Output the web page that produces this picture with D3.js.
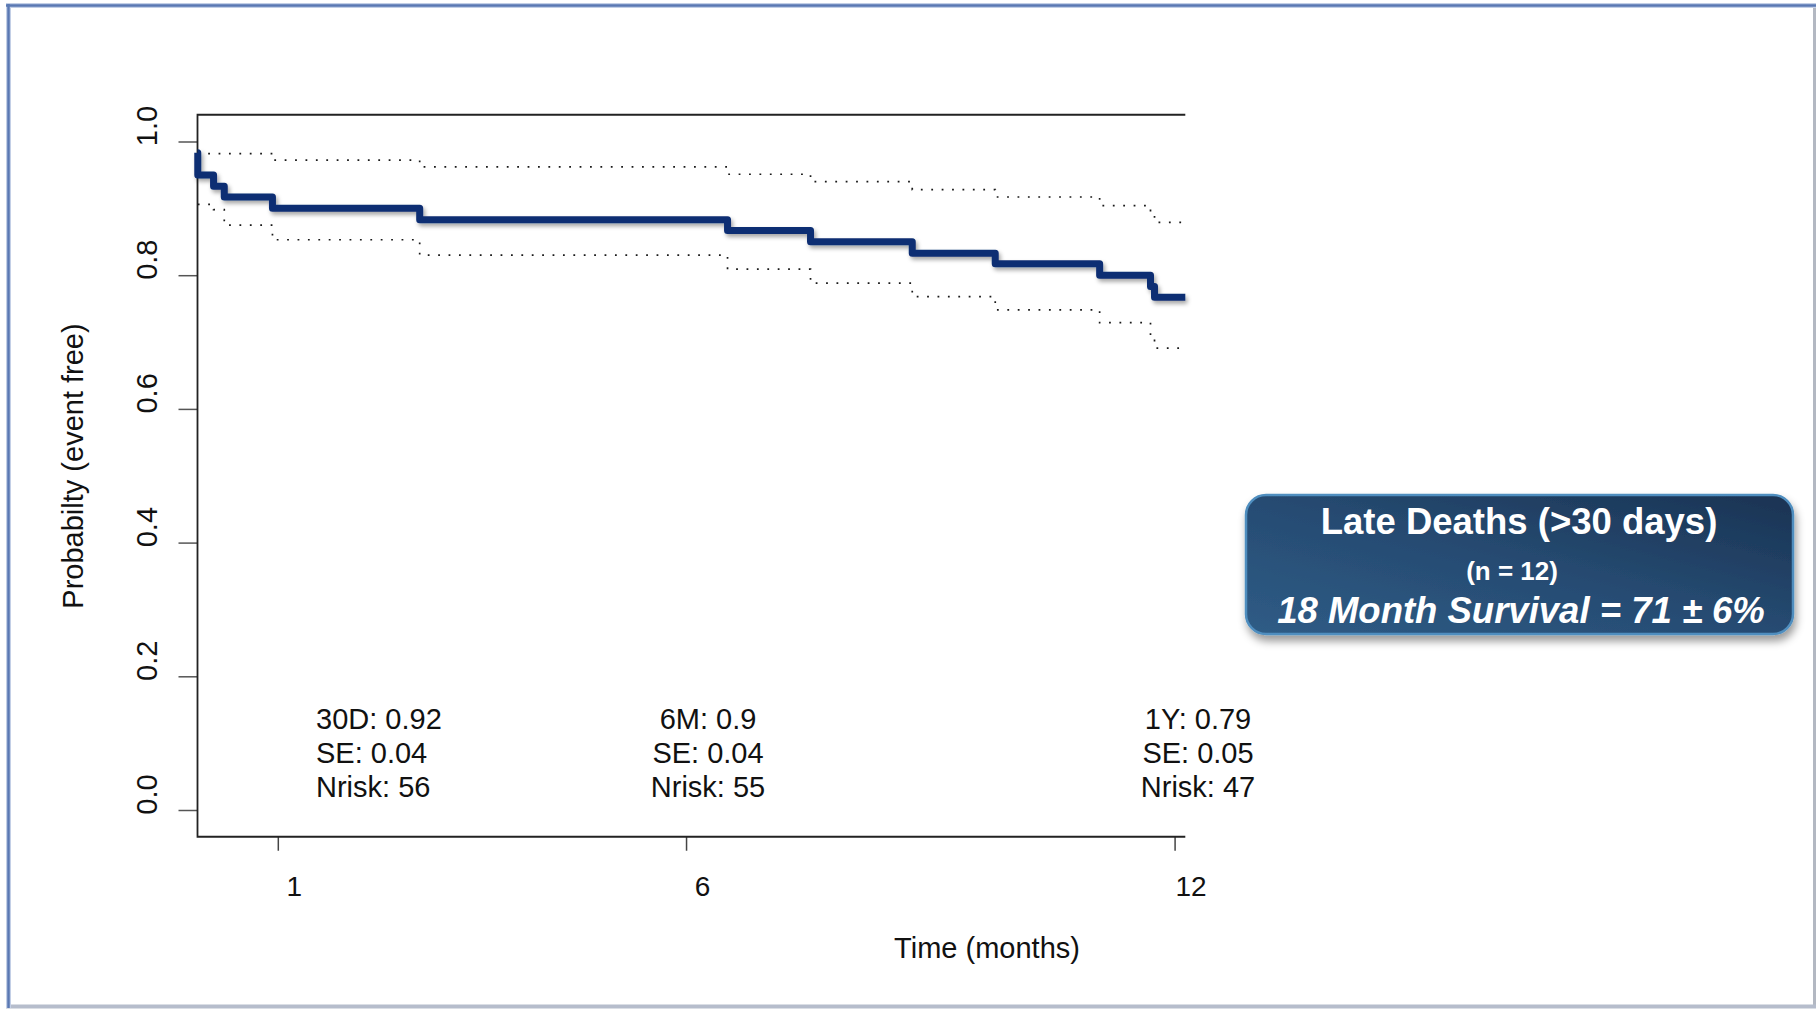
<!DOCTYPE html>
<html>
<head>
<meta charset="utf-8">
<script src="https://cdn.jsdelivr.net/npm/d3@7"></script>
<style>
  html, body { margin: 0; padding: 0; background: #fff; }
  svg { display: block; font-family: "Liberation Sans", Arial, sans-serif; }
</style>
</head>
<body>
<svg id="chart" width="1816" height="1009"></svg>
<script>
// ---- data ----
const dayTicks = [30, 182.5, 365];
const monthLabels = ["1", "6", "12"];
const probTicks = [0, 0.2, 0.4, 0.6, 0.8, 1.0];

// Kaplan-Meier estimate (time in days)
const eventDays = [0, 0.1, 6, 10, 28, 83, 198, 229, 267, 298, 337, 356, 357.5];
const survival  = [0.983, 0.950, 0.933, 0.917, 0.900, 0.883, 0.867, 0.850, 0.833, 0.817, 0.800, 0.783, 0.767];

// pointwise confidence limits
const ciDays  = [0.1, 6, 10, 28, 83, 198, 229, 267, 298, 337, 356, 357.5];
const upperCI = [0.982, 0.982, 0.982, 0.972, 0.962, 0.951, 0.940, 0.928, 0.917, 0.904, 0.892, 0.879];
const lowerCI = [0.906, 0.898, 0.875, 0.853, 0.830, 0.809, 0.788, 0.768, 0.748, 0.729, 0.710, 0.691];
const lastDay = 369;

// survival summaries
const statNames  = ["30D", "6M", "1Y"];
const statSurv   = ["0.92", "0.9", "0.79"];
const statSE     = ["0.04", "0.04", "0.05"];
const statNrisk  = [56, 55, 47];

const boxTitle = "Late Deaths (>30 days)";
const boxCount = "(n = 12)";
const boxNote  = "18 Month Survival = 71 \u00B1 6%";

// ---- drawing ----
const svg = d3.select("#chart");
const W = 1816, H = 1009;

const defs = svg.append("defs");
const lineShadow = defs.append("filter").attr("id", "lineShadow")
  .attr("x", "-5%").attr("y", "-20%").attr("width", "110%").attr("height", "140%");
lineShadow.append("feDropShadow").attr("dx", 2).attr("dy", 3)
  .attr("stdDeviation", 2).attr("flood-color", "#000").attr("flood-opacity", 0.35);

const boxShadow = defs.append("filter").attr("id", "boxShadow")
  .attr("x", "-10%").attr("y", "-20%").attr("width", "120%").attr("height", "150%");
boxShadow.append("feDropShadow").attr("dx", 2).attr("dy", 6)
  .attr("stdDeviation", 4).attr("flood-color", "#000").attr("flood-opacity", 0.4);

const grad = defs.append("linearGradient").attr("id", "boxFill")
  .attr("x1", 0).attr("y1", 1).attr("x2", 1).attr("y2", 0);
grad.append("stop").attr("offset", 0).attr("stop-color", "#2f5c86");
grad.append("stop").attr("offset", 0.5).attr("stop-color", "#264b72");
grad.append("stop").attr("offset", 1).attr("stop-color", "#1a3353");

svg.append("rect").attr("width", W).attr("height", H).attr("fill", "#fff");

// slide frame
const frame = svg.append("g");
frame.append("line").attr("x1", 1814.5).attr("y1", 4).attr("x2", 1814.5).attr("y2", 1008)
  .attr("stroke", "#b3b8c2").attr("stroke-width", 3);
frame.append("line").attr("x1", 6).attr("y1", 1006.5).attr("x2", 1816).attr("y2", 1006.5)
  .attr("stroke", "#b6bdcc").attr("stroke-width", 4);
frame.append("line").attr("x1", 6).attr("y1", 5.5).attr("x2", 1816).attr("y2", 5.5)
  .attr("stroke", "#c3cfe6").attr("stroke-width", 5);
frame.append("line").attr("x1", 8.5).attr("y1", 4).attr("x2", 8.5).attr("y2", 1008)
  .attr("stroke", "#c3cfe6").attr("stroke-width", 5);
frame.append("line").attr("x1", 6).attr("y1", 5.5).attr("x2", 1816).attr("y2", 5.5)
  .attr("stroke", "#5a78b3").attr("stroke-width", 2.5);
frame.append("line").attr("x1", 8.5).attr("y1", 4).attr("x2", 8.5).attr("y2", 1008)
  .attr("stroke", "#5a78b3").attr("stroke-width", 2.5);

// scales
const x = d3.scaleLinear().domain([0, lastDay]).range([197.5, 1185.3]);
const y = d3.scaleLinear().domain([0, 1]).range([810, 141.5]);

const plot = svg.append("g");

// y axis
const yAxis = plot.append("g").attr("transform", `translate(${x(0)},0)`)
  .call(d3.axisLeft(y).tickValues(probTicks).tickSize(19).tickFormat(d3.format(".1f")));
yAxis.select(".domain").remove();
yAxis.selectAll(".tick line").attr("stroke", "#555").attr("stroke-width", 1.5);
yAxis.selectAll(".tick text")
  .attr("x", 0).attr("y", 0).attr("dy", 0)
  .attr("text-anchor", "middle")
  .attr("transform", "translate(-41,-16) rotate(-90)")
  .attr("fill", "#111")
  .style("font-size", "29px")
  .style("font-family", "'Liberation Sans', Arial, sans-serif");

// x axis
const xAxis = plot.append("g").attr("transform", `translate(0,${y(-0.04)})`)
  .call(d3.axisBottom(x).tickValues(dayTicks).tickSize(14).tickFormat((d, i) => monthLabels[i]));
xAxis.select(".domain").remove();
xAxis.selectAll(".tick line").attr("stroke", "#444").attr("stroke-width", 1.5);
xAxis.selectAll(".tick text")
  .attr("x", 16).attr("y", 59).attr("dy", 0)
  .attr("fill", "#111")
  .style("font-size", "28px")
  .style("font-family", "'Liberation Sans', Arial, sans-serif");

// plot box: top, left, bottom
const yTop = y(1.04), yBot = y(-0.04);
plot.append("path")
  .attr("d", `M${x(lastDay)},${yTop}H${x(0)}V${yBot}H${x(lastDay)}`)
  .attr("fill", "none").attr("stroke", "#222").attr("stroke-width", 1.8);

// step lines
const step = d3.line().x(d => x(d[0])).y(d => y(d[1])).curve(d3.curveStepAfter);
const withEnd = (ts, vs) => {
  const pts = ts.map((t, i) => [t, vs[i]]);
  pts.push([lastDay, vs[vs.length - 1]]);
  return pts;
};

[upperCI, lowerCI].forEach(vals => {
  plot.append("path")
    .attr("d", step(withEnd(ciDays, vals)))
    .attr("fill", "none")
    .attr("stroke", "#1a1a1a")
    .attr("stroke-width", 1.7)
    .attr("stroke-dasharray", "1.8 8.6");
});

plot.append("path")
  .attr("d", step(withEnd(eventDays, survival)))
  .attr("fill", "none")
  .attr("stroke", "#0c2e73")
  .attr("stroke-width", 7)
  .attr("stroke-linejoin", "round")
  .attr("stroke-linecap", "butt")
  .attr("filter", "url(#lineShadow)");

// axis titles
svg.append("text")
  .attr("transform", "translate(83,466) rotate(-90)")
  .attr("text-anchor", "middle")
  .attr("fill", "#111")
  .style("font-size", "29px")
  .text("Probabilty (event free)");

svg.append("text")
  .attr("x", 987).attr("y", 958)
  .attr("text-anchor", "middle")
  .attr("fill", "#111")
  .style("font-size", "29px")
  .text("Time (months)");

// survival summaries
const statPos = [
  { x: 316, anchor: "start" },
  { x: 708, anchor: "middle" },
  { x: 1198, anchor: "middle" }
];
const baselines = [729, 763, 797];
statNames.forEach((name, i) => {
  const lines = [`${name}: ${statSurv[i]}`, `SE: ${statSE[i]}`, `Nrisk: ${statNrisk[i]}`];
  lines.forEach((t, j) => {
    svg.append("text")
      .attr("x", statPos[i].x).attr("y", baselines[j])
      .attr("text-anchor", statPos[i].anchor)
      .attr("fill", "#111")
      .style("font-size", "29px")
      .text(t);
  });
});

// summary box
const box = svg.append("g");
box.append("rect")
  .attr("x", 1246).attr("y", 495).attr("width", 547).attr("height", 139)
  .attr("rx", 20).attr("ry", 20)
  .attr("fill", "url(#boxFill)")
  .attr("stroke", "#4f8ebf").attr("stroke-width", 2.5)
  .attr("filter", "url(#boxShadow)");
box.append("text")
  .attr("x", 1519).attr("y", 534).attr("text-anchor", "middle")
  .attr("fill", "#fff").style("font-size", "36.5px").style("font-weight", "bold")
  .text(boxTitle);
box.append("text")
  .attr("x", 1512).attr("y", 580).attr("text-anchor", "middle")
  .attr("fill", "#fff").style("font-size", "26px").style("font-weight", "bold")
  .text(boxCount);
box.append("text")
  .attr("x", 1521).attr("y", 623).attr("text-anchor", "middle")
  .attr("fill", "#fff").style("font-size", "36.5px").style("font-weight", "bold")
  .style("font-style", "italic")
  .text(boxNote);
</script>
</body>
</html>
